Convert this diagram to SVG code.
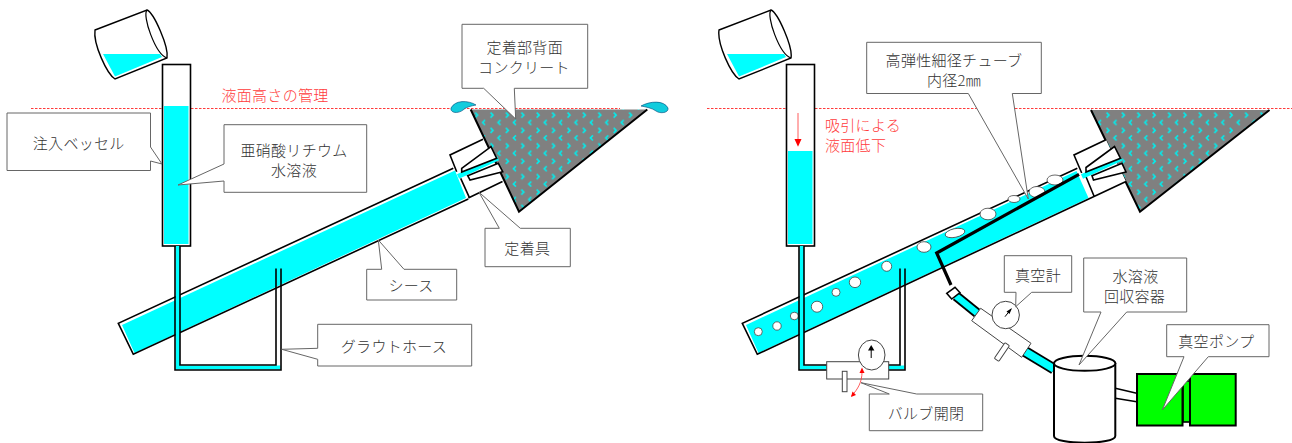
<svg xmlns="http://www.w3.org/2000/svg" xmlns:xlink="http://www.w3.org/1999/xlink" width="1292" height="443" viewBox="0 0 1292 443">
<style>
text{font-family:"Noto Sans CJK JP","Liberation Serif",sans-serif;font-size:15px;font-weight:300;fill:#333;text-anchor:middle;dominant-baseline:central;letter-spacing:.3px}
text.r{fill:#ff3b3b}
text.s{text-anchor:start}
.ln{fill:none;stroke:#000;stroke-width:1.6}
.lnb{fill:none;stroke:#000;stroke-width:2}
.w{fill:#0ff;stroke:none}
.box{fill:#fff;stroke:#000;stroke-width:1.6}
.c{fill:#fff;stroke:#666;stroke-width:1}
.rl{stroke:#ff3b3b;stroke-width:1;stroke-dasharray:2.5 1.5;fill:none}
.g{fill:#fff;stroke:#444;stroke-width:1}
.bub{fill:#fff;stroke:#444;stroke-width:.8}
</style>
<defs>
<pattern id="chev" width="15.4" height="15.4" patternUnits="userSpaceOnUse" x="488" y="110">
<rect width="15.4" height="15.4" fill="#808080"/>
<path d="M2.500 2.500L5 5L2.500 7.500M12.500 10L10 12.500L12.500 15" fill="none" stroke="#0ee" stroke-width="1.600"/>
</pattern>
<g id="beaker">
<path d="M95 30L147 10C154 13 169 47 167 58L115 79C107 74 93 44 95 30Z" fill="#fff" stroke="#000" stroke-width="1.4"/>
<path d="M103 54L160 54L162 57L115 76.500Z" class="w"/>
<path d="M147 10C142 15 155 54 167 58" fill="none" stroke="#000" stroke-width="1.2"/>
</g>
<g id="hose">
<path d="M175.500 246V369.500H280.500V365.500H180V246Z" class="w"/>
<path d="M175 246V370H281V268.500M180 246V365H276V268.500" class="ln"/>
</g>
</defs>

<g id="left-level"><path d="M31 108.500H620" class="rl"/></g>
<g id="left-beaker"><use xlink:href="#beaker"/></g>
<g id="left-sheath">
<path d="M118.300 323.300L453.300 168.300L468.300 199L133.300 354.300Z" fill="#fff"/>
<path d="M122 325L455 170.500L466 198L134.500 353Z" class="w"/>
<path d="M453.300 168.300L118.300 323.300L133.300 354.300L468.300 199" class="ln"/>
</g>
<g id="left-vessel">
<rect x="162.500" y="64.500" width="28" height="181.500" class="box"/>
<rect x="164" y="106" width="24.500" height="138" class="w"/>
</g>
<g id="left-hose"><use xlink:href="#hose"/></g>
<g id="left-concrete">
<path d="M470.700 109.500H647.300L519 211.700Z" fill="url(#chev)"/>
<path d="M470.700 109.500L519 211.700L647.300 109.500" class="lnb"/>
</g>
<g id="left-anchor">
<path d="M450 155L483 139.300L502.500 181.500L469 197.500L457 172Z" fill="#fff"/>
<path d="M456.700 171.700L450 155L483 139.300M468.300 198L502.500 181.500M460.700 178.300L469.300 197.300" class="ln"/>
<path d="M458 176.500L498 158" stroke="#0ff" stroke-width="5" fill="none"/>
<path d="M461.700 168.300L491 146.700L496.700 158.300L461.700 172ZM467.700 175.700L498.300 163.300L502.700 171.700L470 180Z" class="box"/>
</g>
<g id="left-drops">
<path d="M476 105C468 100 455 100 451 108C450 113 458 114 463 110C466 107 471 106 476 105Z" fill="#1cd" stroke="#047" stroke-width=".6"/>
<path d="M641 106C650 101 664 100 668 108C669 113 660 114 656 111C652 108 646 107 641 106Z" fill="#1cd" stroke="#047" stroke-width=".6"/>
</g>

<g id="right-level"><path d="M707 108.500H1292" class="rl"/></g>
<g id="right-beaker"><use xlink:href="#beaker" x="624"/></g>
<g id="right-sheath">
<path d="M742.300 323.300L1077.300 168.300L1092.300 199L757.300 354.300Z" fill="#fff"/>
<path d="M746 325L1076.500 171L1088.500 198L758.500 353Z" class="w"/>
<path d="M1077.300 168.300L742.300 323.300L757.300 354.300L1094 196.500" class="ln"/>
<ellipse cx="758.300" cy="331.700" rx="4" ry="4" class="bub"/>
<ellipse cx="777" cy="326" rx="4.200" ry="4.200" class="bub"/>
<ellipse cx="794.300" cy="316" rx="4" ry="3.800" class="bub"/>
<ellipse cx="817" cy="306.700" rx="5.700" ry="5.500" class="bub"/>
<ellipse cx="836" cy="292.300" rx="4" ry="4" class="bub"/>
<ellipse cx="855" cy="282.300" rx="5.700" ry="5.300" class="bub"/>
<ellipse cx="886.700" cy="266.300" rx="5" ry="5" class="bub"/>
<ellipse cx="924" cy="247" rx="7" ry="5.300" class="bub"/>
<ellipse cx="955" cy="233" rx="10" ry="4.300" transform="rotate(-12 955 233)" class="bub"/>
<ellipse cx="988" cy="214" rx="8" ry="5.800" class="bub"/>
<ellipse cx="1014" cy="199" rx="6" ry="3.500" class="bub"/>
<ellipse cx="1037" cy="192" rx="8" ry="5.500" class="bub"/>
<ellipse cx="1055" cy="180" rx="8" ry="5" class="bub"/>
</g>
<g id="right-vessel">
<rect x="786.500" y="64.500" width="28" height="181.500" class="box"/>
<rect x="788" y="151" width="24.500" height="93" class="w"/>
</g>
<g id="right-hose"><use xlink:href="#hose" x="624"/></g>
<g id="right-concrete">
<path d="M1091 110H1269.500L1140 211.700Z" fill="url(#chev)"/>
<path d="M1091 110L1140 211.700L1269.500 110" class="lnb"/>
</g>
<g id="right-anchor">
<path d="M1074 155L1106 139.800L1126 181.500L1094 196.500L1081 172Z" fill="#fff"/>
<path d="M1081.700 173L1074 155L1106 139.800M1094 196.500L1126 181.500M1086 176.700L1094.300 196.700" class="ln"/>
<path d="M1082 176.500L1121 158.500" stroke="#0ff" stroke-width="5" fill="none"/>
<path d="M1086 167.500L1114.500 146.500L1120.500 158.300L1086 172ZM1092 175.700L1122 163.300L1126 172L1093.500 180Z" class="box"/>
</g>
<g id="suction-tube">
<path d="M1079 174.300L936.700 253L951 285" fill="none" stroke="#000" stroke-width="3.200"/>
<path d="M956 296L977 313" stroke="#000" stroke-width="10" fill="none"/>
<path d="M956 296L977 313" stroke="#0ff" stroke-width="6.500" fill="none"/>
<path d="M946.700 293.300L955 287.300L960 292.700L951.700 299Z" fill="#fff" stroke="#000" stroke-width="1.500"/>
<path d="M1025 351.500L1054 369" stroke="#000" stroke-width="11" fill="none"/>
<path d="M1025 351.500L1054 369" stroke="#0ff" stroke-width="7.500" fill="none"/>
</g>
<g id="can">
<path d="M1054 363V436C1054 445 1115.300 445 1115.300 436V363" fill="#fff" stroke="#000" stroke-width="2"/>
<ellipse cx="1084.700" cy="363.300" rx="30.700" ry="7.500" fill="#fff" stroke="#000" stroke-width="2"/>
</g>
<g id="pipe"><path d="M1115.300 388.300L1136.700 393.300M1115.300 398.300L1136.700 401.700" class="ln"/></g>
<g id="pump">
<rect x="1183" y="381" width="7" height="41" fill="#0f0" stroke="#000" stroke-width="1.600"/>
<rect x="1137" y="374" width="45.500" height="51.500" fill="#0f0" stroke="#000" stroke-width="2"/>
<rect x="1190" y="374" width="45.700" height="51.500" fill="#0f0" stroke="#000" stroke-width="2"/>
</g>
<g id="vacuum-gauge">
<path d="M980.700 308.300L971.700 320.700L1021.700 357.300L1031 343.300Z" class="g"/>
<rect x="992" y="350" width="19" height="5.500" rx="1" transform="rotate(-56 1001 352)" class="g"/>
<circle cx="1005.700" cy="315" r="13.700" class="g"/>
<path d="M1005 316.700L1011 309" stroke="#000" stroke-width="1"/><path d="M1012 308L1006.500 311.500L1009.500 314Z" fill="#000"/>
</g>
<g id="valve">
<rect x="826.700" y="361.700" width="62" height="17.300" class="g"/>
<rect x="842.300" y="371.300" width="4.700" height="20.400" class="g"/>
<ellipse cx="871.700" cy="355" rx="13.300" ry="15" class="g"/>
<path d="M871.200 358V348" stroke="#000" stroke-width="1"/><path d="M871.200 345L868 350.500H874.400Z" fill="#000"/>
<path d="M862 372C862 382 858 389 851.500 396" fill="none" stroke="#f33" stroke-width=".8"/>
<path d="M862 367.500L859.500 373H864.500Z" fill="#f00"/>
<path d="M851 397L852.500 391.500L856 395Z" fill="#f00"/>
</g>
<g id="suction-arrow"><path d="M798 113V140" stroke="#f33" stroke-width=".8"/><path d="M798 146.700L794.500 139H801.500Z" fill="#f00"/></g>

<g id="callout-vessel"><path d="M7 113H150.500V147L162 164L150.500 161V170.500H7Z" class="c"/><text x="78.700" y="142">注入ベッセル</text></g>
<g id="callout-solution"><path d="M224 124.700H366.700V192.300H224V181L178 185L224 164Z" class="c"/><text x="294" y="149">亜硝酸リチウム</text><text x="294" y="169">水溶液</text></g>
<g id="callout-concrete"><path d="M462 24.300H587.700V88.300H514.300L515.700 119L483.700 88.300H462Z" class="c"/><text x="524.700" y="46">定着部背面</text><text x="524" y="66">コンクリート</text></g>
<g id="callout-anchor"><path d="M485 228.300H499.300L479 192.300L520.300 228.300H570.300V266.700H485Z" class="c"/><text x="527.300" y="247">定着具</text></g>
<g id="callout-sheath"><path d="M366.700 269.300H381.700L378.300 240L404 269.300H456.700V300H366.700Z" class="c"/><text x="411" y="284">シース</text></g>
<g id="callout-hose"><path d="M317.700 324.300H471.700V366H317.700V359.300L281.700 349.300L317.700 348.300Z" class="c"/><text x="394" y="345">グラウトホース</text></g>
<g id="label-level"><text x="275" y="94" class="r">液面高さの管理</text></g>
<g id="label-drop"><text x="825" y="124" class="r s">吸引による</text><text x="825" y="144" class="r s">液面低下</text></g>
<g id="callout-tube"><path d="M866.700 42.300H1041.300V93.500H1012.300L1028.300 199L968.300 93.500H866.700Z" class="c"/><text x="954" y="59">高弾性細径チューブ</text><text x="954" y="79">内径2㎜</text></g>
<g id="callout-valve"><path d="M869.300 394H889.300L861 382.700L916.700 394H982.700V430.700H869.300Z" class="c"/><text x="926" y="412.700">バルブ開閉</text></g>
<g id="callout-gauge"><path d="M1004.300 255.700H1071.700V292.300H1031.700L1015.700 306.700L1016 292.300H1004.300Z" class="c"/><text x="1038" y="274">真空計</text></g>
<g id="callout-can"><path d="M1083.700 258H1186.700V312H1126.700L1079 365L1101 312H1083.700Z" class="c"/><text x="1135.500" y="275">水溶液</text><text x="1134.500" y="295">回収容器</text></g>
<g id="callout-pump"><path d="M1166.700 324.700H1269V356.700H1208.300L1162.300 410L1184 356.700H1166.700Z" class="c"/><text x="1178.300" y="340" class="s">真空ポンプ</text></g>
</svg>
